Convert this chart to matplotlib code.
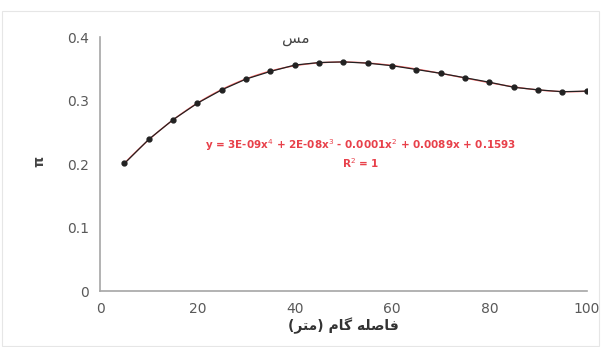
import numpy as np
import matplotlib.pyplot as plt

# داده ها
gam = [5, 10, 15, 20, 25, 30, 35, 40, 45, 50, 55, 60, 65, 70, 75, 80, 85, 90, 95, 100]
pi_val = [0.201, 0.239, 0.270, 0.296, 0.317, 0.334, 0.346, 0.356, 0.360, 0.361,
          0.359, 0.355, 0.349, 0.343, 0.336, 0.329, 0.321, 0.317, 0.314, 0.315]
x_ticks = [0, 20, 40, 60, 80, 100]
y_ticks = [0, 0.1, 0.2, 0.3, 0.4]
y_labels = ["0", "0.1", "0.2", "0.3", "0.4"]

# Arabic text in presentation forms
title_txt = "\uFEB2\uFEE3"  # مس
xlabel_txt = ("(\uFEAE\uFE98\uFEE3)" + " " +
              "\uFEE1\uFE8E\uFB94" + " " +
              "\uFEEA\uFEE0\uFEBB\uFE8E\uFED3")
eq_txt = "y = 3E-09x$^4$ + 2E-08x$^3$ - 0.0001x$^2$ + 0.0089x + 0.1593"

fig = plt.figure(figsize=(6.03, 3.47), dpi=100)
ax = fig.add_axes([0.166, 0.161, 0.807, 0.732])

# trendline (polynomial fit, 4th order)
coef = np.polyfit(gam, pi_val, 4)
xs = np.linspace(gam[0], gam[-1], 200)
ax.plot(xs, np.polyval(coef, xs), color="#ff6b6b", lw=1.0, zorder=2)
ax.plot(gam, pi_val, color="#222222", lw=0.9, marker="o", ms=3.5, zorder=3)

ax.set_xlim(0, 100)
ax.set_ylim(0, 0.4)
ax.set_xticks(x_ticks)
ax.set_yticks(y_ticks)
ax.set_yticklabels(y_labels)
ax.tick_params(length=0, colors="#595959", labelsize=10, pad=8)
for s in ["top", "right"]:
    ax.spines[s].set_visible(False)
for s in ["left", "bottom"]:
    ax.spines[s].set_color("#a6a6a6")
    ax.spines[s].set_linewidth(1.2)

ax.set_xlabel(xlabel_txt, family=["DejaVu Sans"], fontsize=10, fontweight="bold",
              color="#333333", labelpad=1)
fig.text(0.066, 0.535, "\u03c0", rotation=90, fontsize=10, fontweight="bold",
         color="#444444", ha="center", va="center")
fig.text(0.49, 0.89, title_txt, family=["DejaVu Sans"], fontsize=11,
         color="#444444", ha="center", va="center")
ax.text(0.536, 0.575, eq_txt, transform=ax.transAxes, fontsize=7.5, color="#e8404a",
        fontweight="bold", ha="center", va="center")
ax.text(0.536, 0.505, "R$^2$ = 1", transform=ax.transAxes, fontsize=7.5,
        color="#e8404a", fontweight="bold", ha="center", va="center")

# faint chart border
fig.patches.append(plt.Rectangle((0.003, 0.003), 0.99, 0.965, transform=fig.transFigure,
                                 fill=False, ec="#e6e6e6", lw=0.8))

fig.savefig("out.png", dpi=100)
